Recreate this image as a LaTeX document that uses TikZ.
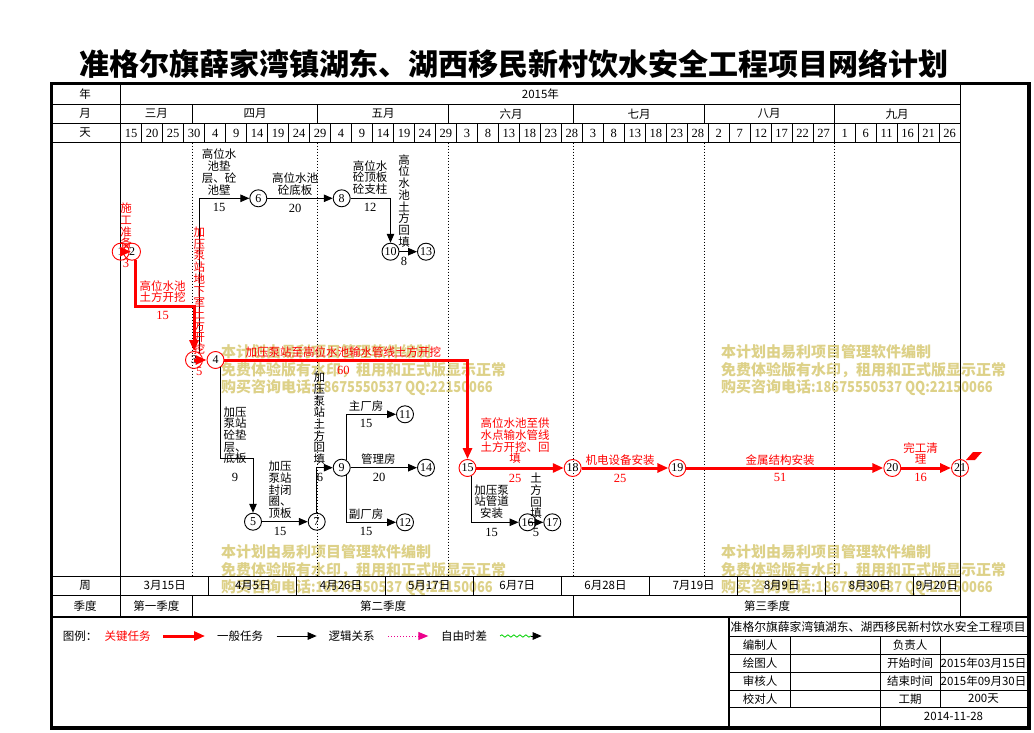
\documentclass[tikz,border=0pt]{standalone}
\usepackage{fontspec}
\setmainfont{Noto Sans CJK SC}
\newfontfamily\numfont{Liberation Serif}
\usetikzlibrary{arrows.meta,decorations.pathmorphing}
\definecolor{wmark}{RGB}{221,209,136}
\definecolor{wavegreen}{RGB}{0,210,0}
\tikzset{
  ev/.style={circle,draw,line width=0.9pt,minimum size=17pt,inner sep=0pt,font=\numfont\fontsize{12}{12}\selectfont},
  evcrit/.style={ev,draw=red},
  job/.style={line width=1pt,-{Triangle[length=9pt,width=7.5pt]}},
  crit/.style={line width=3pt,red,-{Triangle[length=11pt,width=9pt]}},
  lbl/.style={align=center,inner sep=0pt,font=\fontsize{11.5}{11.7}\selectfont},
  lblred/.style={lbl,text=red},
  dur/.style={inner sep=0pt,font=\numfont\fontsize{12.5}{12.5}\selectfont},
  durred/.style={dur,text=red},
  hd/.style={inner sep=0pt,font=\fontsize{11.5}{12}\selectfont},
  hdnum/.style={inner sep=0pt,font=\numfont\fontsize{12.5}{12.5}\selectfont},
  wm/.style={anchor=west,inner sep=0pt,text=wmark,font=\bfseries\fontsize{15}{15}\selectfont},
  thin/.style={line width=1pt},
  monthdot/.style={dotted,line width=1pt},
  frame/.style={line width=3.5pt}
}
\begin{document}
\begin{tikzpicture}[x=1pt,y=-1pt]
\useasboundingbox[fill=white] (0,0) rectangle (1034,733);

\node[font=\bfseries\fontsize{30}{30}\selectfont,inner sep=0pt] (title) at (514,64) {准格尔旗薛家湾镇湖东、湖西移民新村饮水安全工程项目网络计划};

\foreach \wx/\wy [count=\k] in {221/352,721/352,221/552,721/552}{
  \node[wm] (wma\k) at (\wx,\wy) {本计划由易利项目管理软件编制};
  \node[wm] (wmb\k) at (\wx,\wy+18) {免费体验版有水印，租用和正式版显示正常};
  \node[wm] (wmc\k) at (\wx,\wy+36) {购买咨询电话\scalebox{0.86}[1]{:18675550537 QQ:22150066}};
}

\draw[frame] (51.5,83.5) rectangle (1029,728);
\draw[line width=2.5pt] (51.5,617) -- (1029,617);
\draw[thin] (120.7,83.5) -- (120.7,617);
\draw[thin] (960.1,83.5) -- (960.1,617);
\foreach \y in {104.3,123.3,142.7,576,595.3}
  \draw[thin] (51.5,\y) -- (960.1,\y);

\node[hd] (ly) at (85,94) {年};
\node[hd] (lm) at (85,113.8) {月};
\node[hd] (ld) at (85,133) {天};
\node[hd] (lw) at (85,585.6) {周};
\node[hd] (lq) at (85,606) {季度};
\node[hd] (yr) at (540.4,94) {2015年};

\foreach \mx in {192.05,317.96,448.07,573.98,704.08,834.19}{
  \draw[thin] (\mx,104.3) -- (\mx,123.3);
  \draw[monthdot] (\mx,142.7) -- (\mx,576);
}
\foreach \mx/\mname [count=\k] in {156.4/三月,255/四月,383/五月,511/六月,639/七月,769.1/八月,897.1/九月}
  \node[hd] (mo\k) at (\mx,113.8) {\mname};

\foreach \i in {1,...,39}
  \draw[thin] ({120.7+\i*20.985},123.3) -- ({120.7+\i*20.985},142.7);
\foreach \d [count=\i from 0] in {15,20,25,30,4,9,14,19,24,29,4,9,14,19,24,29,3,8,13,18,23,28,3,8,13,18,23,28,2,7,12,17,22,27,1,6,11,16,21,26}
  \node[hdnum] (dy\i) at ({131.2+\i*20.985},133) {\d};

\foreach \i in {1,...,9}
  \draw[thin] ({120.7+\i*88.137},576) -- ({120.7+\i*88.137},595.3);
\foreach \wk [count=\i from 0] in {3月15日,4月5日,4月26日,5月17日,6月7日,6月28日,7月19日,8月9日,8月30日}
  \node[hd] (wk\i) at ({164.77+\i*88.137},585.6) {\wk};
\node[hd] (wk9) at (937,585.6) {9月20日};

\draw[thin] (192.05,595.3) -- (192.05,617);
\draw[thin] (573.98,595.3) -- (573.98,617);
\node[hd] (q1) at (156.4,606) {第一季度};
\node[hd] (q2) at (383,606) {第二季度};
\node[hd] (q3) at (767,606) {第三季度};

\node[evcrit] (n1) at (120.7,251.7) {1};
\node[evcrit] (n2) at (132,251.7) {2};
\node[evcrit] (n3) at (194,360) {3};
\node[evcrit] (n4) at (215.5,360) {4};
\node[ev] (n5) at (253,521.7) {5};
\node[ev] (n6) at (258.3,198.3) {6};
\node[ev] (n7) at (316.7,521.7) {7};
\node[ev] (n8) at (341.7,198.3) {8};
\node[ev] (n9) at (341.7,467.7) {9};
\node[ev] (n10) at (390.5,251.7) {10};
\node[ev] (n11) at (405,414.3) {11};
\node[ev] (n12) at (405,522.3) {12};
\node[ev] (n13) at (426,251.7) {13};
\node[ev] (n14) at (426,467.7) {14};
\node[evcrit] (n15) at (467.5,468) {15};
\node[ev] (n16) at (527.5,522.3) {16};
\node[ev] (n17) at (552.3,522.3) {17};
\node[evcrit] (n18) at (572.7,468) {18};
\node[evcrit] (n19) at (677.3,468) {19};
\node[evcrit] (n20) at (892.3,468) {20};
\node[evcrit] (n21) at (960,468) {21};
\coordinate (k23) at (0,306);
\coordinate (k45) at (0,458);

\draw[crit] (n1.center) -- ([xshift=-1pt]n2.center);
\draw[crit] (n2.-64) |- (n3.north |- k23) -- (n3.north);
\draw[crit] (n3.center) -- (n4.west);
\draw[crit] (n4.east) -| (n15.north);
\draw[crit] (n15.east) -- (n18.west);
\draw[crit] (n18.east) -- (n19.west);
\draw[crit] (n19.east) -- (n20.west);
\draw[crit] (n20.east) -- (n21.west);
\draw[job] (n3.56) |- (n6.west);
\draw[job] (n6.east) -- (n8.west);
\draw[job] (n8.east) -| (n10.north);
\draw[job] (n10.east) -- (n13.west);
\draw[job] (n4.-55) |- (n5.north |- k45) -- (n5.north);
\draw[job] (n5.east) -- (n7.west);
\draw[job] (n7.north) |- (n9.west);
\draw[job] (n9.56) |- (n11.west);
\draw[job] (n9.east) -- (n14.west);
\draw[job] (n9.-56) |- (n12.west);
\draw[job] (n15.-62) |- (n16.west);
\draw[job] (n16.center) -- (n17.west);
\fill[red] (966,460) -- (973,452) -- (982,452) -- (975,460) -- cycle;

\node[lblred] (t12) at (126,226) {施\\工\\准\\备};
\node[durred] (d12) at (126,263) {3};
\node[lblred] (t23) at (162.7,291.5) {高位水池\\土方开挖};
\node[durred] (d23) at (162.7,315.7) {15};
\node[lblred] (t34) at (199.3,290.7) {加\\压\\泵\\站\\地\\下\\室\\土\\方\\开\\挖};
\node[durred] (d34) at (199.3,371.5) {5};
\node[lbl] (t36) at (219,172) {高位水\\池垫\\层、砼\\池壁};
\node[dur] (d36) at (219,207.7) {15};
\node[lbl] (t68) at (295,184) {高位水池\\砼底板};
\node[dur] (d68) at (295,208) {20};
\node[lbl] (t810) at (370,177.5) {高位水\\砼顶板\\砼支柱};
\node[dur] (d810) at (370,207.3) {12};
\node[lbl] (t1013) at (404,200.8) {高\\位\\水\\池\\土\\方\\回\\填};
\node[dur] (d1013) at (404,261.7) {8};
\node[lblred] (t415) at (343.3,352.3) {加压泵站至高位水池输水管线土方开挖};
\node[durred] (d415) at (343.3,370.7) {60};
\node[lbl] (t45) at (235,435.3) {加压\\泵站\\砼垫\\层、\\底板};
\node[dur] (d45) at (235,477.7) {9};
\node[lbl] (t57) at (280,490) {加压\\泵站\\封闭\\圈、\\顶板};
\node[dur] (d57) at (280,531.7) {15};
\node[lbl] (t79) at (319.3,418.3) {加\\压\\泵\\站\\土\\方\\回\\填};
\node[dur] (d79) at (320,477.7) {6};
\node[lbl] (t911) at (366,406) {主厂房};
\node[dur] (d911) at (366,423.3) {15};
\node[lbl] (t914) at (378.3,459.3) {管理房};
\node[dur] (d914) at (379,477.3) {20};
\node[lbl] (t912) at (366,514) {副厂房};
\node[dur] (d912) at (366,531.7) {15};
\node[lblred] (t1518) at (515,441) {高位水池至供\\水点输水管线\\土方开挖、回\\填};
\node[durred] (d1518) at (515,478.3) {25};
\node[lbl] (t1516) at (491.7,501.5) {加压泵\\站管道\\安装};
\node[dur] (d1516) at (491.7,532.3) {15};
\node[lbl] (t1617) at (536,496) {土\\方\\回\\填};
\node[dur] (d1617) at (536,532.3) {5};
\node[lblred] (t1819) at (620,460) {机电设备安装};
\node[durred] (d1819) at (620,478.3) {25};
\node[lblred] (t1920) at (780,460) {金属结构安装};
\node[durred] (d1920) at (780,477.7) {51};
\node[lblred] (t2021) at (920.7,453.5) {完工清\\理};
\node[durred] (d2021) at (920.7,477.7) {16};

\node[hd,anchor=west] (lg0) at (62.7,636) {图例：};
\node[hd,text=red] (lg1) at (127.5,636) {关键任务};
\coordinate (lga1) at (163,636);
\coordinate (lgb1) at (205,636);
\draw[crit] (lga1) -- (lgb1);
\node[hd] (lg2) at (240,636) {一般任务};
\coordinate (lga2) at (276.7,636);
\coordinate (lgb2) at (316.7,636);
\draw[job] (lga2) -- (lgb2);
\node[hd] (lg3) at (351.7,636) {逻辑关系};
\coordinate (lga3) at (388.3,636);
\coordinate (lgb3) at (428.3,636);
\draw[magenta,dotted,line width=1pt,-{Triangle[length=10pt,width=8pt]}] (lga3) -- (lgb3);
\node[hd] (lg4) at (464,636) {自由时差};
\coordinate (lga4) at (500,636);
\coordinate (lgm4) at (531,636);
\coordinate (lgb4) at (541.7,636);
\draw[wavegreen,line width=0.8pt,decorate,decoration={snake,amplitude=1.2pt,segment length=6pt}] (lga4) -- (lgm4);
\draw[job] (lgm4) -- (lgb4);

\draw[line width=2.5pt] (729,617) -- (729,728);
\foreach \y in {636.7,654.3,672.3,690,707.7}
  \draw[thin] (729,\y) -- (1029,\y);
\draw[thin] (790,636.7) -- (790,707.7);
\draw[thin] (880,636.7) -- (880,728);
\draw[thin] (940,636.7) -- (940,707.7);
\node[hd,anchor=west,font=\fontsize{11.8}{12}\selectfont] (tb0) at (730.5,627) {准格尔旗薛家湾镇湖东、湖西移民新村饮水安全工程项目};
\node[hd] (tb1) at (760,645.5) {编制人};
\node[hd] (tb2) at (910,645.5) {负责人};
\node[hd] (tb3) at (760,663.3) {绘图人};
\node[hd] (tb4) at (910,663.3) {开始时间};
\node[hd] (tb5) at (983.5,663.3) {2015年03月15日};
\node[hd] (tb6) at (760,681.2) {审核人};
\node[hd] (tb7) at (910,681.2) {结束时间};
\node[hd] (tb8) at (983.5,681.2) {2015年09月30日};
\node[hd] (tb9) at (760,699) {校对人};
\node[hd] (tb10) at (910,699) {工期};
\node[hd] (tb11) at (983.5,699) {200天};
\node[hd] (tb12) at (953.5,716.7) {2014-11-28};
\end{tikzpicture}
\end{document}
